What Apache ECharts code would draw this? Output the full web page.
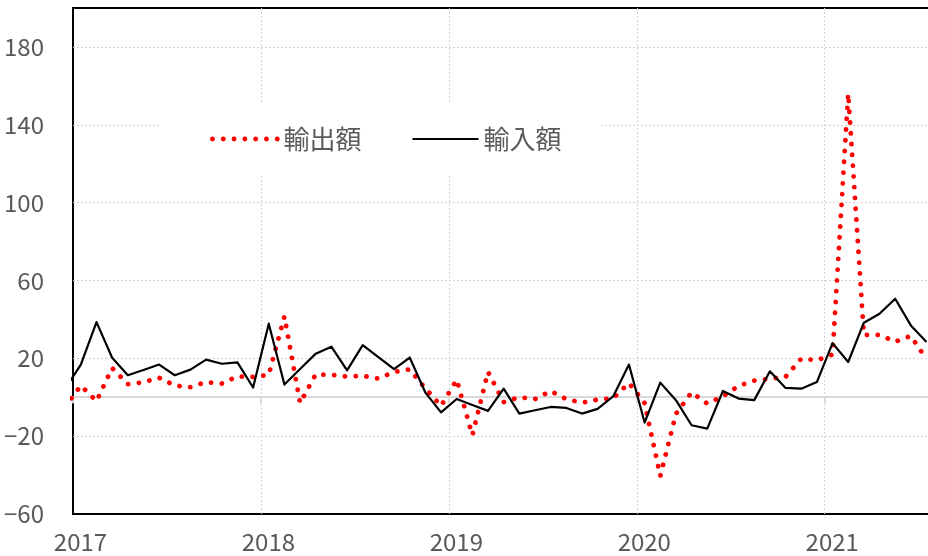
<!DOCTYPE html>
<html>
<head>
<meta charset="utf-8">
<script src="https://cdn.jsdelivr.net/npm/echarts@6/dist/echarts.min.js"></script>
<style>
  html, body { margin: 0; padding: 0; background: #fff; }
  #chart { width: 928px; height: 556px; }
</style>
</head>
<body>
<div id="chart"></div>
<script>
// Months (first one lies just before the visible range and is clipped)
const months = [
  '2016-12',
  '2017-01','2017-02','2017-03','2017-04','2017-05','2017-06','2017-07','2017-08','2017-09','2017-10','2017-11','2017-12',
  '2018-01','2018-02','2018-03','2018-04','2018-05','2018-06','2018-07','2018-08','2018-09','2018-10','2018-11','2018-12',
  '2019-01','2019-02','2019-03','2019-04','2019-05','2019-06','2019-07','2019-08','2019-09','2019-10','2019-11','2019-12',
  '2020-01','2020-02','2020-03','2020-04','2020-05','2020-06','2020-07','2020-08','2020-09','2020-10','2020-11','2020-12',
  '2021-01','2021-02','2021-03','2021-04','2021-05','2021-06','2021-07'
];
// 輸出額 (red dotted)
const exportsYoY = [
  -5,
  6, -2, 15, 6.7, 7.7, 10, 6, 5.2, 7.8, 7, 10.7, 10.4,
  11.5, 41.5, -3, 11.8, 11.5, 10.6, 11, 9.6, 13, 14.3, 4.5, -4.5,
  9, -19.5, 13, -2.5, 0, -1, 3.2, -1, -2.8, -1.2, -0.5, 7.3,
  -3, -40.5, -8.5, 2.5, -3.3, 0.5, 5.8, 8.5, 9.5, 10.5, 19.8, 19,
  22, 156, 32, 32, 28.5, 31.5, 19.5
];
// 輸入額 (black solid)
const importsYoY = [
  4.4,
  16.8, 38.6, 20.3, 11.3, 14, 16.8, 11.3, 14.2, 19.3, 17.2, 17.9, 5,
  37.8, 6.5, 14.5, 22.4, 26, 13.8, 26.8, 20.6, 14.4, 20.4, 2.4, -7.8,
  -0.9, -4, -7, 4.4, -8.4, -6.7, -5, -5.5, -8.4, -6, 0.5, 16.8,
  -13, 7.5, -1.5, -14.4, -16.1, 3.2, -0.7, -1.5, 13.3, 4.8, 4.4, 7.8,
  27.8, 18.1, 38.3, 42.9, 50.6, 36.9, 28.4
];
const seriesNames = ['輸出額', '輸入額'];
const yGridValues = [-20, 20, 60, 100, 140, 180];
const firstYear = 2017;

// month index (months since Jan of firstYear), centred in the month
function monthPos(s) {
  const [y, m] = s.split('-').map(Number);
  return (y - firstYear) * 12 + (m - 1) + 0.5;
}
const exportData = months.map((m, i) => [monthPos(m), exportsYoY[i]]);
const importData = months.map((m, i) => [monthPos(m), importsYoY[i]]);

const FONT = "'Liberation Sans Narrow', 'Noto Sans CJK JP', sans-serif";
const CJK = "'Noto Sans CJK JP', sans-serif";
const GRAY = '#595959';
const redLine = { color: '#ff0000', width: 4.8, type: [0.1, 10.7], cap: 'round', join: 'round' };
const blackLine = { color: '#000000', width: 2.2, join: 'round' };

const chart = echarts.init(document.getElementById('chart'), null, { renderer: 'canvas' });
chart.setOption({
  animation: false,
  backgroundColor: '#fff',
  grid: {
    left: 73, top: 8, bottom: 42, width: 877,
    outerBoundsMode: 'none', containLabel: false,
    show: true, borderColor: '#000', borderWidth: 2, backgroundColor: 'transparent'
  },
  legend: {
    data: [
      { name: seriesNames[0], lineStyle: redLine },
      { name: seriesNames[1], lineStyle: blackLine }
    ],
    left: 161, top: 104,
    padding: [22, 40, 22, 49],
    itemGap: 50,
    itemWidth: 66, itemHeight: 14,
    itemStyle: { opacity: 0 },
    backgroundColor: '#fff',
    textStyle: { fontFamily: CJK, fontSize: 26, color: GRAY }
  },
  xAxis: [{
    type: 'value', min: 0, max: 56, interval: 12,
    axisLine: { show: false, onZero: false },
    axisTick: { show: false },
    axisLabel: {
      showMaxLabel: false,
      margin: 16,
      padding: [0, 0, 0, 15],
      fontFamily: FONT, fontSize: 24, color: GRAY,
      formatter: v => (v % 12 === 0 ? String(firstYear + v / 12) : '')
    },
    splitLine: { show: true, lineStyle: { color: '#d4d4d4', width: 1, type: [2, 2] } }
  }, {
    type: 'value', min: 0, max: 56, interval: 12, position: 'bottom',
    axisLine: { show: true, onZero: true, lineStyle: { color: '#d9d9d9', width: 2 } },
    axisTick: { show: true, length: 6, lineStyle: { color: '#d9d9d9', width: 2 } },
    axisLabel: { show: false },
    splitLine: { show: false }
  }],
  yAxis: {
    type: 'value', min: -60, max: 200, interval: 20,
    axisLine: { show: true, onZero: false, lineStyle: { color: '#000', width: 2 } },
    axisTick: { show: false },
    splitLine: { show: false },
    axisLabel: {
      margin: 29,
      fontFamily: FONT, fontSize: 24, color: GRAY,
      formatter: v => {
        if ((v + 60) % 40 !== 0 || v > 180) return '';
        return v < 0 ? '\u2212' + Math.abs(v) : String(v);
      }
    }
  },
  series: [{
    name: seriesNames[0], type: 'line', xAxisIndex: 0, data: exportData,
    symbol: 'none', z: 3,
    lineStyle: redLine,
    itemStyle: { color: '#ff0000' },
    markLine: {
      silent: true, symbol: 'none', z: 1, animation: false,
      label: { show: false },
      lineStyle: { color: '#d4d4d4', width: 1, type: [2, 2] },
      data: yGridValues.map(v => ({ yAxis: v }))
    }
  }, {
    name: seriesNames[1], type: 'line', xAxisIndex: 0, data: importData,
    symbol: 'none', z: 4,
    lineStyle: blackLine,
    itemStyle: { color: '#000000' }
  }]
});
</script>
</body>
</html>
